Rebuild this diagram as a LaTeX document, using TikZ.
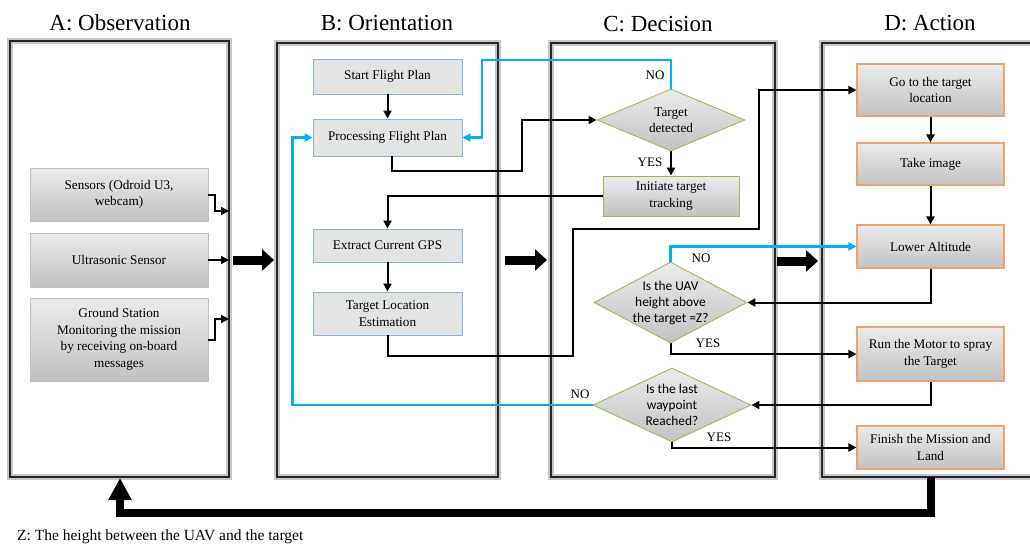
\documentclass[tikz,border=0pt]{standalone}
\usepackage{fontspec}
\setmainfont{Liberation Serif}
\newfontfamily\calib{Carlito}
\usetikzlibrary{shapes.geometric,arrows.meta}
\definecolor{cyanl}{HTML}{00B0F0}
\definecolor{obsb}{HTML}{BFBFBF}
\definecolor{orib}{HTML}{8DB3E2}
\definecolor{orif}{HTML}{E3E3E3}
\definecolor{decb}{HTML}{9BBB59}
\definecolor{actb}{HTML}{F4A26B}
\definecolor{gtop}{HTML}{EBEBEB}
\definecolor{gbot}{HTML}{C2C2C2}
\tikzset{
  txt/.style={font=\fontsize{13.2}{16.5}\selectfont, align=center, inner sep=0pt},
  diatxt/.style={font=\calib\fontsize{13.4}{16}\selectfont, align=center, inner sep=0pt},
  obsbox/.style={txt, draw=obsb, line width=0.8pt, top color=gtop, bottom color=gbot, minimum width=178pt},
  oribox/.style={txt, draw=orib, line width=0.9pt, fill=orif, minimum width=149pt},
  decbox/.style={txt, draw=decb, line width=0.9pt, top color=gtop, bottom color=gbot},
  actbox/.style={txt, draw=actb, line width=1.1pt, top color=gtop, bottom color=gbot, minimum width=147pt},
  dia/.style={diamond, draw=decb, line width=0.9pt, top color=gtop, bottom color=gbot, inner sep=0pt},
  panel/.style={draw=black!85, line width=1.3pt},
  panelshadow/.style={draw=black!22, line width=6pt},
  title/.style={font=\fontsize{23}{26}\selectfont, inner sep=0pt},
  lbl/.style={font=\fontsize{13}{15}\selectfont, inner sep=0pt},
  flow/.style={black, line width=2pt, -{Triangle[length=8pt,width=8pt]}},
  bflow/.style={cyanl, line width=2.2pt, -{Triangle[length=8pt,width=8pt]}},
  fat/.style={black, line width=9pt, -{Triangle[length=12pt,width=21pt]}},
  fatter/.style={black, line width=8pt, line join=miter, -{Triangle[length=22pt,width=22pt]}}
}
\begin{document}
\begin{tikzpicture}[x=1pt,y=-1pt]
\useasboundingbox[fill=white] (0,0) rectangle (1030,547);

% titles
\node[title] (tA) at (120,23) {A: Observation};
\node[title] (tB) at (387,23) {B: Orientation};
\node[title] (tC) at (658,24) {C: Decision};
\node[title] (tD) at (930,23) {D: Action};

% panels
\draw[panelshadow] (10,41) rectangle (229,477);
\draw[panel] (10,41) rectangle (229,477);
\draw[panelshadow] (277,43) rectangle (498,477);
\draw[panel] (277,43) rectangle (498,477);
\draw[panelshadow] (551,43) rectangle (775,477);
\draw[panel] (551,43) rectangle (775,477);
\draw[panelshadow] (822,43) rectangle (1045,477);
\draw[panel] (822,43) rectangle (1045,477);

% A: Observation
\node[obsbox, minimum height=53pt] (sens) at (119,194.5) {Sensors (Odroid U3,\\webcam)};
\node[obsbox, minimum height=54pt] (ultra) at (119,260) {Ultrasonic Sensor};
\node[obsbox, minimum height=83pt] (ground) at (119,339.5) {Ground Station\\Monitoring the mission\\by receiving on-board\\messages};
\coordinate (aIn1) at (229,211);
\coordinate (aIn2) at (229,260);
\coordinate (aIn3) at (229,319);
\draw[flow] (sens.east) -| (215,211) -- (aIn1);
\draw[flow] (ultra.east) -- (aIn2);
\draw[flow] (ground.east) -| (215,319) -- (aIn3);

% B: Orientation
\node[oribox, minimum height=35pt] (start) at (387.5,76.5) {Start Flight Plan};
\node[oribox, minimum height=37pt] (proc) at (387.5,137.5) {Processing Flight Plan};
\node[oribox, minimum height=33pt] (gps) at (387.5,245.5) {Extract Current GPS};
\node[oribox, minimum height=43pt] (tle) at (387.5,313.5) {Target Location\\Estimation};

% C: Decision
\node[dia, minimum width=148pt, minimum height=62pt] (d1) at (671,120) {};
\node[txt] (d1t) at (d1) {Target\\detected};
\node[decbox, minimum width=136pt, minimum height=40pt] (init) at (671,196) {Initiate target\\tracking};
\node[dia, minimum width=153pt, minimum height=81pt] (d2) at (670.5,302.5) {};
\node[diatxt] (d2t) at (d2) {Is the UAV\\height above\\the target =Z?};
\node[dia, minimum width=158pt, minimum height=74pt] (d3) at (672,405) {};
\node[diatxt] (d3t) at (d3) {Is the last\\waypoint\\Reached?};

% D: Action
\node[actbox, minimum height=52pt] (go) at (930.5,90) {Go to the target\\location};
\node[actbox, minimum height=42pt] (take) at (930.5,164) {Take image};
\node[actbox, minimum height=43pt] (lower) at (930.5,246.5) {Lower Altitude};
\node[actbox, minimum height=54pt] (run) at (930.5,354) {Run the Motor to spray\\the Target};
\node[actbox, minimum height=43pt] (fin) at (930.5,447.5) {Finish the Mission and\\Land};

% labels
\node[lbl] (no1) at (655,75) {NO};
\node[lbl] (yes1) at (650,162) {YES};
\node[lbl] (no2) at (701,258) {NO};
\node[lbl] (yes2) at (708,343) {YES};
\node[lbl] (no3) at (580,394) {NO};
\node[lbl] (yes3) at (719,437) {YES};

% connectors
\draw[flow] (start) -- (proc);
\draw[bflow] (d1.north) |- (482,60) |- (proc.east);
\draw[bflow] (d3.west) -| ([xshift=-20pt]proc.west) -- (proc.west);
\draw[bflow] (d2.north) |- (lower.west);
\draw[flow] ([xshift=4.5pt]proc.south) -- ++(0,15) -| (522,120) -- (d1.west);
\draw[flow] (init.west) -| (gps.north);
\draw[flow] (gps) -- (tle);
\draw[flow] (tle.south) |- (573,356) |- (759,229) |- (go.west);
\draw[flow] (d1.south) -- (init.north);
\draw[flow] (go) -- (take);
\draw[flow] (take) -- (lower);
\draw[flow] (lower.south) |- (d2.east);
\draw[flow] (d2.south) |- (run.west);
\draw[flow] (run.south) |- (d3.east);
\draw[flow] (d3.south) |- (fin.west);

% thick arrows between panels
\coordinate (ab1) at (233,260); \coordinate (ab2) at (274,260);
\coordinate (bc1) at (505,260); \coordinate (bc2) at (547,260);
\coordinate (cd1) at (777,261); \coordinate (cd2) at (818,261);
\draw[fat] (ab1) -- (ab2);
\draw[fat] (bc1) -- (bc2);
\draw[fat] (cd1) -- (cd2);
\coordinate (fbS) at (931,477);
\coordinate (fbE) at (120,478);
\draw[fatter] (fbS) -- (931,513) -- (120,513) -- (fbE);

% footnote
\node[font=\fontsize{15.5}{18}\selectfont, inner sep=0pt, anchor=west] (foot) at (17,537) {Z: The height between the UAV and the target};
\end{tikzpicture}
\end{document}
